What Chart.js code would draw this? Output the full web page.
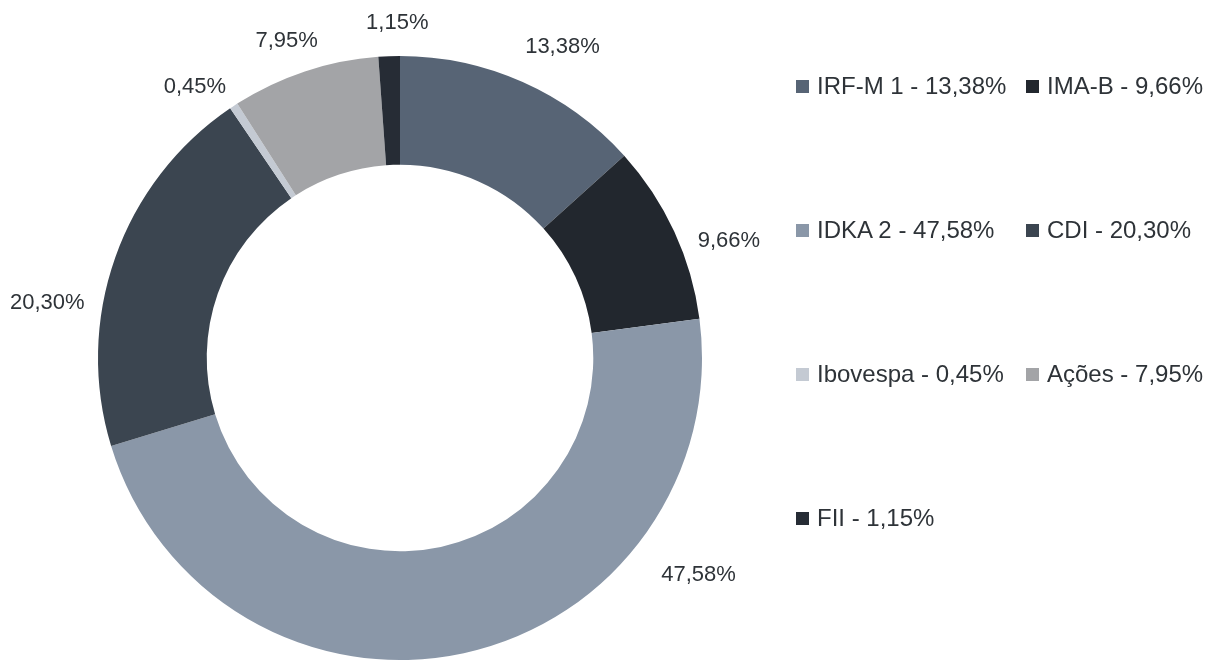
<!DOCTYPE html>
<html>
<head>
<meta charset="utf-8">
<script src="https://cdn.jsdelivr.net/npm/chart.js@4"></script>
<style>
	html, body { margin: 0; padding: 0; background: #fff; }
	#wrap { position: relative; width: 1208px; height: 662px; overflow: hidden; }
	#chartBox { position: absolute; left: 0; top: 0; width: 800px; height: 662px; }
	#legend {
		position: absolute; left: 796px; top: 72px;
		display: grid; grid-template-columns: 230px 230px; grid-auto-rows: 144px;
		font-family: 'Liberation Sans', Arial, sans-serif; font-size: 24px; color: #2e3338;
	}
	.item { display: flex; align-items: center; height: 28px; white-space: nowrap; }
	.box { width: 13px; height: 13px; margin-right: 8px; flex: none; }
</style>
</head>
<body>
<div id="wrap">
	<div id="chartBox"><canvas id="pie"></canvas></div>
	<div id="legend"></div>
</div>
<script>
const CATEGORIES = ['IRF-M 1', 'IMA-B', 'IDKA 2', 'CDI', 'Ibovespa', 'Ações', 'FII']
const SHARES = [13.38, 9.66, 47.58, 20.30, 0.45, 7.95, 1.15]
const COLORS = ['#576475', '#22272e', '#8a97a8', '#3b4550', '#c4cad3', '#a3a4a7', '#262c35']

const pct = v => v.toFixed(2).replace('.', ',') + '%'

// percentage labels around the ring
const outsideLabels = {
	id: 'outsideLabels',
	afterDatasetsDraw(chart, args, opts) {
		const ctx = chart.ctx
		const meta = chart.getDatasetMeta(0)
		ctx.save()
		ctx.font = opts.font
		ctx.fillStyle = opts.color
		ctx.textAlign = 'center'
		ctx.textBaseline = 'middle'
		meta.data.forEach((arc, i) => {
			const p = arc.getProps(['startAngle', 'endAngle', 'outerRadius', 'x', 'y'], true)
			const [da, dr] = opts.nudge[i] || [0, 40]
			const a = (p.startAngle + p.endAngle) / 2 + da * Math.PI / 180
			const r = p.outerRadius + dr
			ctx.fillText(pct(SHARES[i]), p.x + Math.cos(a) * r, p.y + Math.sin(a) * r)
		})
		ctx.restore()
	}
}

const config_pie = {
	type: 'doughnut',
	data: {
		labels: CATEGORIES,
		datasets: [{
			data: SHARES,
			backgroundColor: COLORS,
			borderWidth: 0,
		}]
	},
	options: {
		responsive: true,
		maintainAspectRatio: false,
		animation: false,
		cutout: '64%',
		layout: { padding: { top: 56, bottom: 2, left: 0, right: 0 } },
		plugins: {
			legend: { display: false },
			tooltip: { enabled: false },
			outsideLabels: {
				font: '22px "Liberation Sans", Arial, sans-serif',
				color: '#2e3338',
				// angle shift (deg), distance beyond the ring (px)
				nudge: [[3.6, 49], [5.2, 47], [-41.8, 67], [-10.6, 55], [-3.7, 38], [-1.3, 35], [1.6, 33]]
			}
		}
	},
	plugins: [outsideLabels]
}

const pie = new Chart(document.getElementById('pie'), config_pie)

// html legend, two per row
const legendEl = document.getElementById('legend')
pie.data.labels.forEach((name, i) => {
	const item = document.createElement('div')
	item.className = 'item'
	const box = document.createElement('span')
	box.className = 'box'
	box.style.background = COLORS[i]
	const txt = document.createElement('span')
	txt.textContent = name + ' - ' + pct(SHARES[i])
	item.appendChild(box)
	item.appendChild(txt)
	legendEl.appendChild(item)
})
</script>
</body>
</html>
